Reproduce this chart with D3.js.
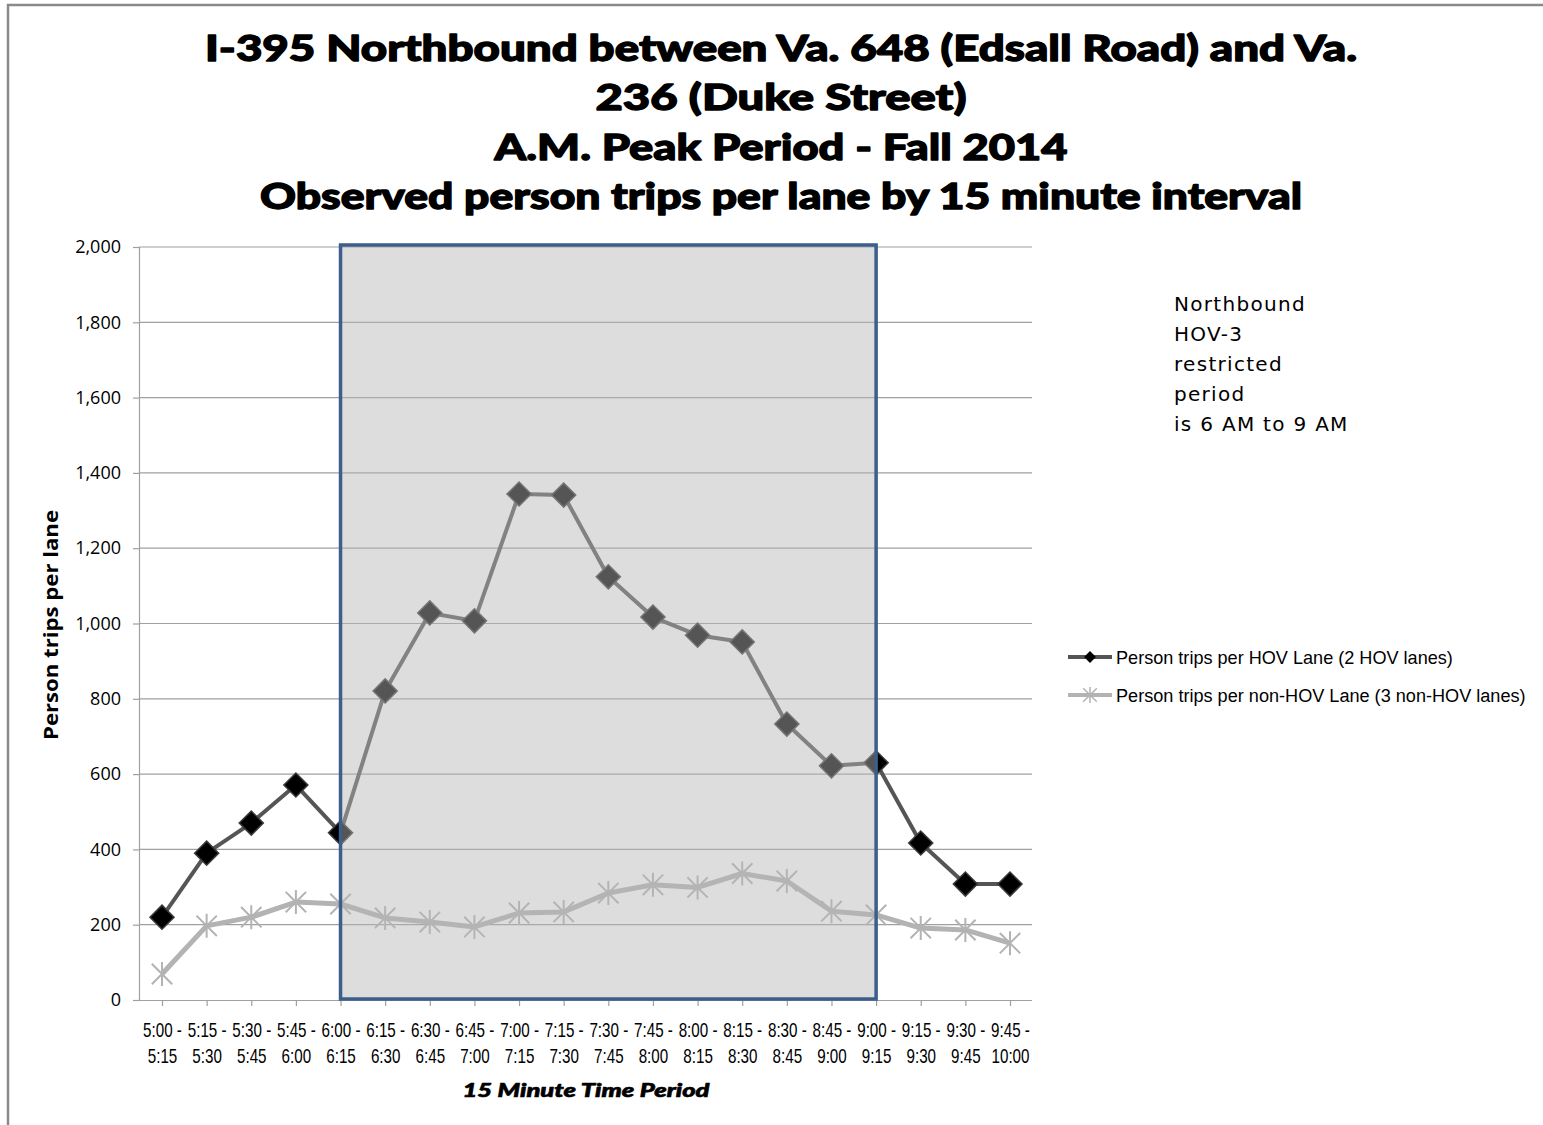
<!DOCTYPE html>
<html><head><meta charset="utf-8">
<script src="https://cdn.jsdelivr.net/npm/d3@7"></script>
<style>body{margin:0;background:#fff}</style>
</head><body>
<svg id="chart" width="1543" height="1125"></svg>
<script>
// ---- data ----
const periodStart = ["5:00","5:15","5:30","5:45","6:00","6:15","6:30","6:45","7:00","7:15","7:30","7:45","8:00","8:15","8:30","8:45","9:00","9:15","9:30","9:45"];
const periodEnd   = ["5:15","5:30","5:45","6:00","6:15","6:30","6:45","7:00","7:15","7:30","7:45","8:00","8:15","8:30","8:45","9:00","9:15","9:30","9:45","10:00"];
const hovTrips    = [220,390,470,571,444,821,1028,1007,1344,1341,1124,1017,969,951,733,622,630,417,308,308];
const nonHovTrips = [69,197,220,260,255,218,207,194,231,234,284,306,299,336,316,236,226,191,186,151];
const yTicks = [0,200,400,600,800,1000,1200,1400,1600,1800,2000];
const seriesNames = ["Person trips per HOV Lane (2 HOV lanes)","Person trips per non-HOV Lane (3 non-HOV lanes)"];
const titleLines = ["I-395 Northbound between Va. 648 (Edsall Road) and Va.","236 (Duke Street)","A.M. Peak Period - Fall 2014","Observed person trips per lane by 15 minute interval"];
const noteLines = ["Northbound","HOV-3","restricted","period","is 6 AM to 9 AM"];
const restrictedFrom = "6:00", restrictedTo = "9:00";
const yTitle = "Person trips per lane";
const xTitle = "15 Minute Time Period";

// ---- layout ----
const svg = d3.select("#chart");
const plotL = 139, plotR = 1032, plotT = 247, plotB = 1000;
const x = d3.scalePoint().domain(periodStart).range([162, 1010]);
const y = d3.scaleLinear().domain([0, 2000]).range([plotB, plotT]);

// frame
svg.append("path").attr("d","M8,1125V5H1543").attr("fill","none").attr("stroke","#8a8a8a").attr("stroke-width",2.5);

// title
const titleWidths = [1152, 371, 573, 1042];
const titleY = [61, 110, 160, 209];
titleLines.forEach((t,i)=>{
  svg.append("text").attr("x",781).attr("y",titleY[i]).attr("text-anchor","middle")
    .attr("font-family","Lato, 'Open Sans', sans-serif").attr("font-weight",900).attr("font-size",36)
    .attr("textLength",titleWidths[i]).attr("lengthAdjust","spacingAndGlyphs")
    .attr("fill","#000").attr("stroke","#000").attr("stroke-width",1.3).attr("stroke-linejoin","round").text(t);
});

// gridlines
svg.append("g").selectAll("line").data(yTicks.filter(d=>d>0)).join("line")
  .attr("x1",plotL).attr("x2",plotR).attr("y1",d=>y(d)).attr("y2",d=>y(d))
  .attr("stroke","#a0a0a0").attr("stroke-width",1.2);

// y axis
const yAxis = svg.append("g").attr("transform",`translate(${plotL},0)`)
  .call(d3.axisLeft(y).tickValues(yTicks).tickSize(6).tickFormat(d3.format(",")));
yAxis.select(".domain").attr("stroke","#a0a0a0").attr("stroke-width",1.2);
yAxis.selectAll(".tick line").attr("stroke","#a0a0a0").attr("stroke-width",1.2);
yAxis.selectAll(".tick text").attr("x",-18).attr("font-family","'Open Sans', sans-serif").attr("font-size",18).attr("fill","#000");

// x axis
const xAxis = svg.append("g").attr("transform",`translate(0,${plotB})`)
  .call(d3.axisBottom(x).tickSize(6).tickFormat(""));
xAxis.select(".domain").attr("d",`M${plotL},0.5H${plotR}`).attr("stroke","#a0a0a0").attr("stroke-width",1.2);
xAxis.selectAll(".tick line").attr("stroke","#a0a0a0").attr("stroke-width",1.2);
xAxis.selectAll(".tick").each(function(d,i){
  const g = d3.select(this);
  g.select("text").remove();
  const t = g.append("text").attr("transform","scale(0.76,1)").attr("text-anchor","middle")
    .attr("font-family","'Liberation Sans', Arial, sans-serif").attr("font-size",20).attr("fill","#000");
  t.append("tspan").attr("x",0).attr("y",37).text(periodStart[i]+" -");
  t.append("tspan").attr("x",0).attr("y",63).text(periodEnd[i]);
});

// axis titles
svg.append("text").attr("transform",`translate(58,625) rotate(-90)`).attr("text-anchor","middle")
  .attr("font-family","'Open Sans', sans-serif").attr("font-weight",700).attr("font-size",19)
  .attr("textLength",230).attr("lengthAdjust","spacingAndGlyphs")
  .attr("fill","#000").text(yTitle);
svg.append("text").attr("x",586).attr("y",1097).attr("text-anchor","middle")
  .attr("font-family","Lato, 'Open Sans', sans-serif").attr("font-weight",900).attr("font-style","italic")
  .attr("font-size",18).attr("textLength",247).attr("lengthAdjust","spacingAndGlyphs")
  .attr("fill","#000").attr("stroke","#000").attr("stroke-width",0.6).text(xTitle);

// lines
const lineGen = d3.line().x((d,i)=>x(periodStart[i])).y(d=>y(d));
svg.append("path").datum(nonHovTrips).attr("d",lineGen).attr("fill","none")
  .attr("stroke","#b3b3b3").attr("stroke-width",5).attr("stroke-linejoin","round");
svg.append("path").datum(hovTrips).attr("d",lineGen).attr("fill","none")
  .attr("stroke","#555").attr("stroke-width",4).attr("stroke-linejoin","round");

// markers
const star = r => `M0,${-r}V${r}M${-r*0.85},${-r*0.85}L${r*0.85},${r*0.85}M${r*0.85},${-r*0.85}L${-r*0.85},${r*0.85}`;
svg.append("g").selectAll("path").data(nonHovTrips).join("path")
  .attr("transform",(d,i)=>`translate(${x(periodStart[i])},${y(d)})`)
  .attr("d",star(12)).attr("fill","none").attr("stroke","#b3b3b3").attr("stroke-width",2);
const diamond = d3.symbol(d3.symbolSquare, 290)();
svg.append("g").selectAll("path").data(hovTrips).join("path")
  .attr("transform",(d,i)=>`translate(${x(periodStart[i])},${y(d)}) rotate(45)`)
  .attr("d",diamond).attr("fill","#000").attr("stroke","#3a3a3a").attr("stroke-width",1.5);

// restricted period overlay
const rx0 = x(restrictedFrom), rx1 = x(restrictedTo);
svg.append("rect").attr("x",rx0).attr("y",y(2000)-2).attr("width",rx1-rx0).attr("height",y(0)-y(2000)+1)
  .attr("fill","rgb(182,182,182)").attr("fill-opacity",0.467)
  .attr("stroke","#3b5e8c").attr("stroke-width",3.5);

// note
noteLines.forEach((t,i)=>{
  svg.append("text").attr("x",1174).attr("y",311+i*30)
    .attr("font-family","'DejaVu Sans', sans-serif").attr("font-size",20).attr("letter-spacing",1.3)
    .attr("fill","#000").text(t);
});

// legend
const legY = [657, 695];
const legW = [337, 410];
const leg = svg.append("g");
leg.append("line").attr("x1",1068).attr("x2",1112).attr("y1",legY[0]).attr("y2",legY[0]).attr("stroke","#555").attr("stroke-width",4);
leg.append("path").attr("transform",`translate(1090,${legY[0]}) rotate(45)`).attr("d",d3.symbol(d3.symbolSquare,70)()).attr("fill","#000");
leg.append("line").attr("x1",1068).attr("x2",1112).attr("y1",legY[1]).attr("y2",legY[1]).attr("stroke","#b3b3b3").attr("stroke-width",4);
leg.append("path").attr("transform",`translate(1090,${legY[1]})`).attr("d",star(8)).attr("fill","none").attr("stroke","#b3b3b3").attr("stroke-width",1.5);
seriesNames.forEach((t,i)=>{
  const g = leg.append("g").attr("transform",`translate(1116,${legY[i]+7})`);
  const txt = g.append("text").attr("x",0).attr("y",0)
    .attr("font-family","'Liberation Sans', Arial, sans-serif").attr("font-size",19)
    .attr("fill","#000").text(t);
  const natural = txt.node().getComputedTextLength();
  txt.attr("transform",`scale(${legW[i]/natural},1)`);
});
</script>
</body></html>
